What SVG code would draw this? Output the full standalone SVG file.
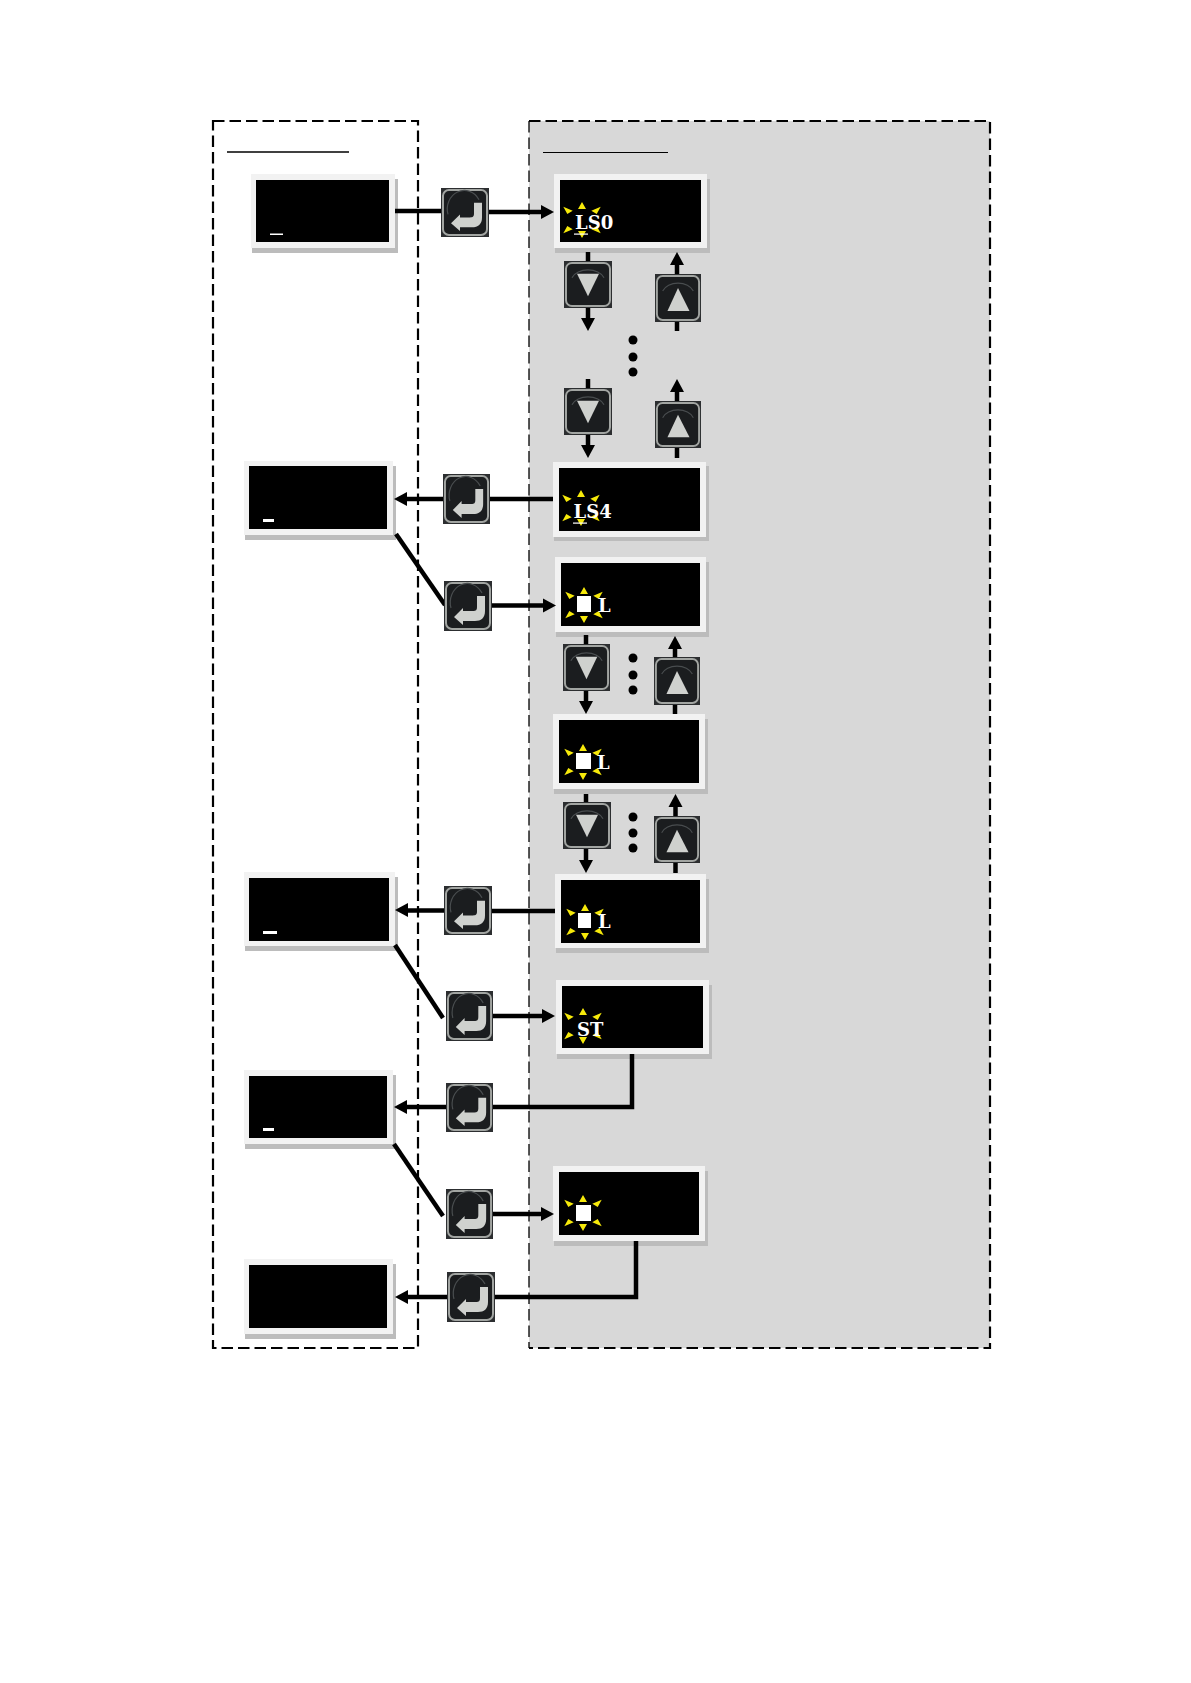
<svg xmlns="http://www.w3.org/2000/svg" width="1191" height="1683" viewBox="0 0 1191 1683">
<style>
.shadow{fill:#bcbcbc}
.bezel{fill:#f2f2f2}
.screen{fill:#000}
.line{fill:none;stroke:#000;stroke-width:4.500}
.head{fill:#000}
.star{fill:#f6e90a}
.sq{fill:#fff}
.lcd{font-family:"DejaVu Serif",serif;font-weight:700;font-size:18px;fill:#fff}
.btnface{fill:#1b1d1f;stroke:#a2a5a2;stroke-width:2}
.btnbg{fill:#2c2e30}
.glyph{fill:#cfd1ce}
.ring{fill:none;stroke:#494d4f;stroke-width:1.200}
.dash{fill:none;stroke:#000;stroke-width:2.200;stroke-dasharray:11.500 5}
</style>
<defs>
<symbol id="enter" viewBox="0 0 48 50" preserveAspectRatio="none">
<rect class="btnbg" width="48" height="50"/>
<rect class="btnface" x="2" y="2" width="44" height="46" rx="6"/>
<path class="ring" d="M7 27A17 19 0 0 1 38 12"/>
<path class="glyph" d="M10 36L19 27V30H29C32 30 33 29 33 26V15H41V30C41 37 37 40 31 40H19V44Z"/>
</symbol>
<symbol id="down" viewBox="0 0 48 48" preserveAspectRatio="none">
<rect class="btnbg" width="48" height="48"/>
<rect class="btnface" x="2" y="2" width="44" height="44" rx="6"/>
<path class="ring" d="M8 17A17 12 0 0 1 40 17"/>
<path class="glyph" d="M13 13H35L24 36Z"/>
</symbol>
<symbol id="up" viewBox="0 0 48 48" preserveAspectRatio="none">
<rect class="btnbg" width="48" height="48"/>
<rect class="btnface" x="2" y="2" width="44" height="44" rx="6"/>
<path class="ring" d="M8 17A17 12 0 0 1 40 17"/>
<path class="glyph" d="M13 37H36L24 14Z"/>
</symbol>
<g id="burst">
<path class="star" d="M0-18L4-11H-4ZM0 18L4 11H-4ZM-18.700-13.300L-9.300-9.300L-14.700-6ZM18.700-13.300L9.300-9.300L14.700-6ZM-18.700 13.300L-9.300 9.300L-14.700 6ZM18.700 13.300L9.300 9.300L14.700 6Z"/>
</g>
</defs>
<g id="frames">
<rect x="529" y="121" width="461" height="1227" fill="#d8d8d8"/>
<rect class="dash" x="213" y="121" width="205" height="1227"/>
<path class="dash" d="M529 121H990V1348H529"/>
<path class="dash" style="stroke-width:1.300" d="M529 121V1348"/>
<path d="M227 152H349" stroke="#000" stroke-width="1.600" fill="none"/>
<path d="M543 152.500H668" stroke="#000" stroke-width="1" fill="none"/>
</g>
<g id="display-1"><rect class="shadow" x="252" y="179" width="146" height="74"/><rect class="bezel" x="251" y="174" width="144" height="74"/><rect class="screen" x="256" y="180" width="133" height="62"/><rect class="sq" x="270" y="233.500" width="13" height="1.500"/></g>
<g id="display-2"><rect class="shadow" x="245" y="466" width="151" height="74"/><rect class="bezel" x="244" y="461" width="149" height="74"/><rect class="screen" x="249" y="466" width="138" height="63"/><rect class="sq" x="263" y="519" width="11" height="3"/></g>
<g id="display-3"><rect class="shadow" x="245" y="877" width="153" height="74"/><rect class="bezel" x="244" y="872" width="151" height="74"/><rect class="screen" x="249" y="878" width="140" height="63"/><rect class="sq" x="263" y="931" width="14" height="3"/></g>
<g id="display-4"><rect class="shadow" x="245" y="1075" width="151" height="74"/><rect class="bezel" x="244" y="1070" width="149" height="74"/><rect class="screen" x="249" y="1076" width="138" height="62"/><rect class="sq" x="263" y="1128" width="11" height="3"/></g>
<g id="display-5"><rect class="shadow" x="245" y="1264" width="151" height="75"/><rect class="bezel" x="244" y="1259" width="149" height="75"/><rect class="screen" x="249" y="1265" width="138" height="63"/></g>
<g id="panel-ls0"><rect class="shadow" x="555" y="179" width="155" height="74"/><rect class="bezel" x="554" y="174" width="153" height="74"/><rect class="screen" x="560" y="180" width="141" height="62"/><use href="#burst" x="582" y="220"/><text class="lcd" x="575" y="229">LS0</text><rect class="sq" x="574" y="233.500" width="14" height="1.200"/></g>
<g id="panel-ls4"><rect class="shadow" x="554" y="466" width="155" height="75"/><rect class="bezel" x="553" y="462" width="153" height="75"/><rect class="screen" x="559" y="468" width="141" height="63"/><use href="#burst" x="581" y="508"/><text class="lcd" x="573.500" y="518">LS4</text><rect class="sq" x="573" y="522.500" width="14" height="1.200"/></g>
<g id="panel-l1"><rect class="shadow" x="556" y="562" width="153" height="75"/><rect class="bezel" x="555" y="557" width="151" height="75"/><rect class="screen" x="561" y="563" width="139" height="63"/><use href="#burst" x="584" y="605"/><rect class="sq" x="577" y="596" width="14" height="16"/><text class="lcd" x="598" y="612">L</text></g>
<g id="panel-l2"><rect class="shadow" x="554" y="719" width="154" height="75"/><rect class="bezel" x="553" y="714" width="152" height="75"/><rect class="screen" x="559" y="720" width="140" height="63"/><use href="#burst" x="583" y="762"/><rect class="sq" x="576" y="753" width="15" height="16"/><text class="lcd" x="597" y="769">L</text></g>
<g id="panel-l3"><rect class="shadow" x="556" y="879" width="153" height="74"/><rect class="bezel" x="555" y="874" width="151" height="74"/><rect class="screen" x="561" y="880" width="139" height="63"/><use href="#burst" x="585" y="922"/><rect class="sq" x="578" y="913" width="13" height="15"/><text class="lcd" x="598" y="928">L</text></g>
<g id="panel-st"><rect class="shadow" x="557" y="985" width="155" height="74"/><rect class="bezel" x="556" y="980" width="153" height="74"/><rect class="screen" x="562" y="986" width="141" height="62"/><use href="#burst" x="583" y="1026"/><text class="lcd" x="577" y="1036">ST</text></g>
<g id="panel-blank"><rect class="shadow" x="554" y="1171" width="154" height="75"/><rect class="bezel" x="553" y="1166" width="152" height="75"/><rect class="screen" x="559" y="1172" width="140" height="63"/><use href="#burst" x="583" y="1213"/><rect class="sq" x="576" y="1205" width="15" height="16"/></g>
<g id="connectors">
<path class="line" d="M395 211H441M489 212H544"/>
<path class="head" d="M554 212L541 205V219Z"/>
<path class="line" d="M588 252V261M588 308V320"/>
<path class="head" d="M588 331L581 318H595Z"/>
<path class="line" d="M677 331V322M677 274V263"/>
<path class="head" d="M677 252L670 265H684Z"/>
<path class="line" d="M588 379V388M588 435V447"/>
<path class="head" d="M588 458L581 445H595Z"/>
<path class="line" d="M677 458V448M677 401V390"/>
<path class="head" d="M677 379L670 392H684Z"/>
<path class="line" d="M553 499H490M443 499H405"/>
<path class="head" d="M394 499L407 492V506Z"/>
<path class="line" d="M396 534L445 605"/>
<path class="line" d="M492 605.500H546"/>
<path class="head" d="M556 605.500L543 598.500V612.500Z"/>
<path class="line" d="M586 635V644M586 691V704"/>
<path class="head" d="M586 714L579 701H593Z"/>
<path class="line" d="M675 714V705M675 657V646"/>
<path class="head" d="M675 636L668 649H682Z"/>
<path class="line" d="M586 794V802M586 849V863"/>
<path class="head" d="M586 873L579 860H593Z"/>
<path class="line" d="M675.500 873V863M675.500 816V805"/>
<path class="head" d="M675.500 794L668.500 807H682.500Z"/>
<path class="line" d="M555 911H492M444 910.500H405"/>
<path class="head" d="M395 910L408 903V917Z"/>
<path class="line" d="M395 945L443 1018"/>
<path class="line" d="M493 1016H545"/>
<path class="head" d="M555 1016L542 1009V1023Z"/>
<path class="line" d="M632 1054V1107H493M446 1107H404"/>
<path class="head" d="M394 1107L407 1100V1114Z"/>
<path class="line" d="M394 1144L443 1216"/>
<path class="line" d="M493 1214H544"/>
<path class="head" d="M554 1214L541 1207V1221Z"/>
<path class="line" d="M636 1241V1297H495M447 1297H405"/>
<path class="head" d="M395 1297L408 1290V1304Z"/>
</g>
<g id="btn-enter-1"><use href="#enter" x="441" y="188" width="48" height="49"/></g>
<g id="btn-enter-2"><use href="#enter" x="443" y="474" width="47" height="50"/></g>
<g id="btn-enter-3"><use href="#enter" x="444" y="581" width="48" height="50"/></g>
<g id="btn-enter-4"><use href="#enter" x="444" y="886" width="48" height="49"/></g>
<g id="btn-enter-5"><use href="#enter" x="446" y="991" width="47" height="50"/></g>
<g id="btn-enter-6"><use href="#enter" x="446" y="1083" width="47" height="49"/></g>
<g id="btn-enter-7"><use href="#enter" x="446" y="1189" width="47" height="50"/></g>
<g id="btn-enter-8"><use href="#enter" x="447" y="1272" width="48" height="50"/></g>
<g id="btn-down-1"><use href="#down" x="564" y="261" width="48" height="47"/></g>
<g id="btn-down-2"><use href="#down" x="564" y="388" width="48" height="47"/></g>
<g id="btn-down-3"><use href="#down" x="563" y="644" width="47" height="47"/></g>
<g id="btn-down-4"><use href="#down" x="563" y="802" width="48" height="47"/></g>
<g id="btn-up-1"><use href="#up" x="655" y="274" width="46" height="48"/></g>
<g id="btn-up-2"><use href="#up" x="655" y="401" width="46" height="47"/></g>
<g id="btn-up-3"><use href="#up" x="654" y="657" width="46" height="48"/></g>
<g id="btn-up-4"><use href="#up" x="654" y="816" width="46" height="47"/></g>
<g id="dots-1"><circle cx="633" cy="340" r="4.500"/><circle cx="633" cy="357" r="4.500"/><circle cx="633" cy="372" r="4.500"/></g>
<g id="dots-2"><circle cx="633" cy="658" r="4.500"/><circle cx="633" cy="675" r="4.500"/><circle cx="633" cy="690" r="4.500"/></g>
<g id="dots-3"><circle cx="633" cy="817" r="4.500"/><circle cx="633" cy="833" r="4.500"/><circle cx="633" cy="848" r="4.500"/></g>
</svg>
